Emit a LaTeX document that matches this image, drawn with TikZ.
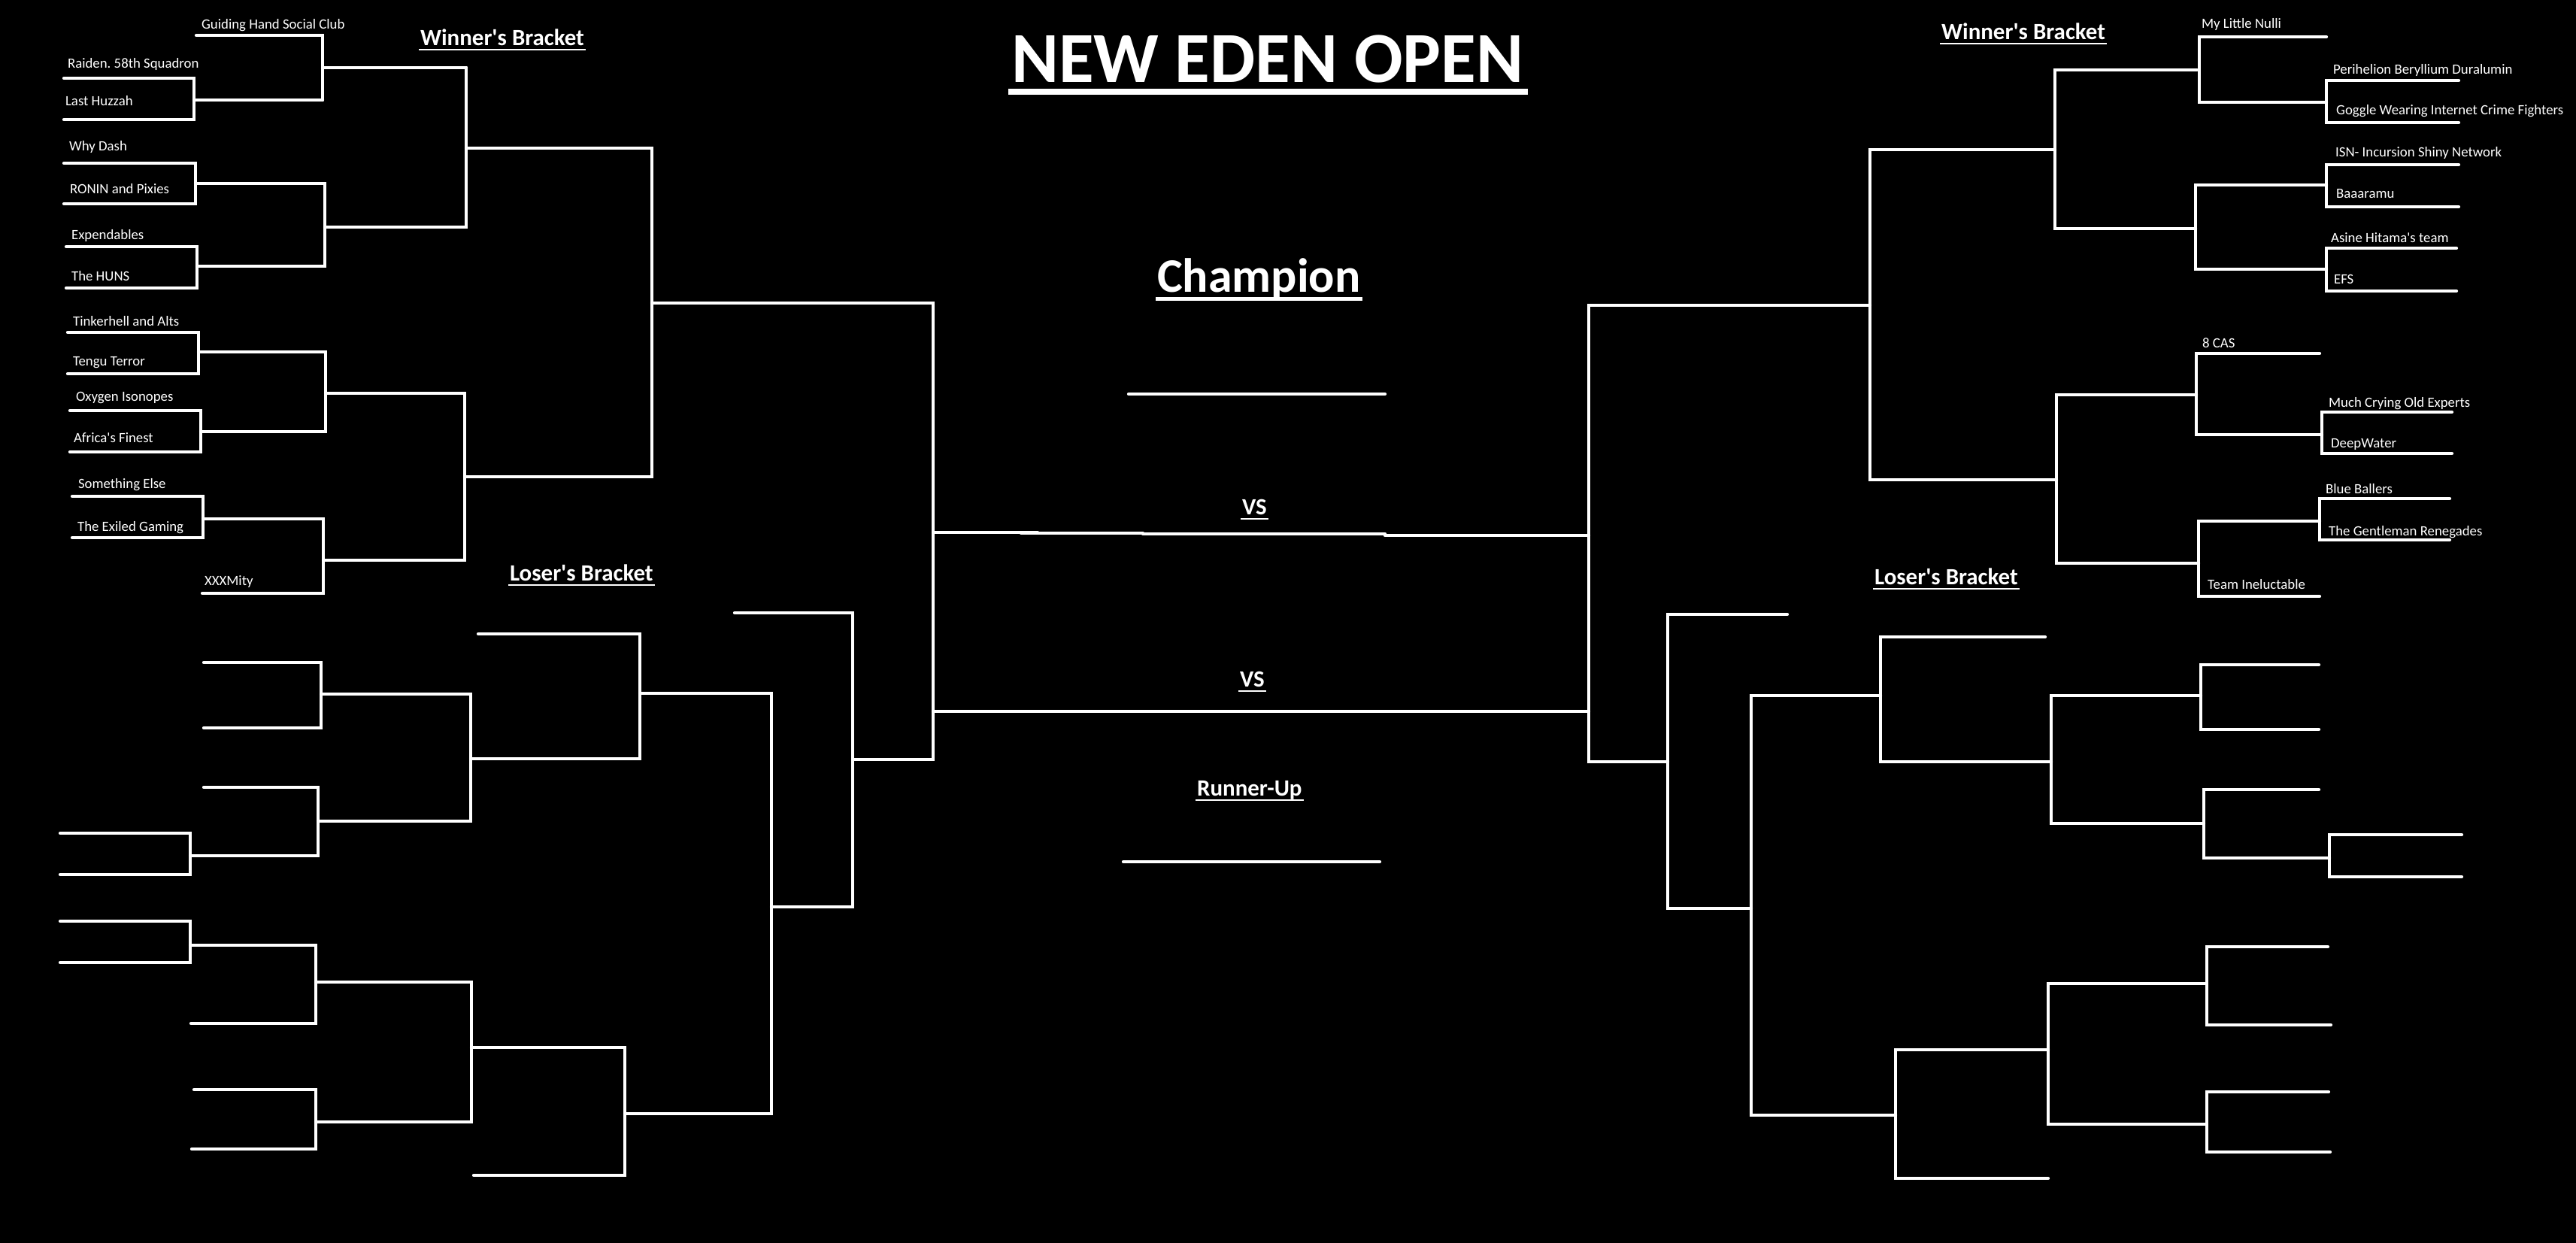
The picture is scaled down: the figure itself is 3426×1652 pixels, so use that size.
\documentclass[tikz,border=0pt]{standalone}
\usepackage{fontspec}
\setmainfont{Carlito}
\frenchspacing

\begin{document}
\begin{tikzpicture}[x=0.1mm, y=-0.1mm, line width=0.42mm, line cap=round, white,
        team/.style={anchor=base west, inner sep=0, font=\fontsize{5.35}{6}\selectfont},
        head/.style={anchor=base west, inner sep=0, font=\fontsize{8.8}{10}\selectfont\bfseries},
        uline/.style={line width=0.25mm, line cap=butt}]
        \useasboundingbox (0, 0) rectangle (3426, 1652);
        \fill[black] (-10, -10) rectangle (3436, 1662);

        % titles
        \node[anchor=base west, inner sep=0, font=\fontsize{27.2}{30}\selectfont\bfseries] (title) at (1343, 109) {NEW EDEN OPEN};
        \draw[line width=0.8mm, line cap=butt] ([xshift=-0.2mm, yshift=-1.3mm]title.base west) -- ([xshift=0.4mm, yshift=-1.3mm]title.base east);
        \node[anchor=base west, inner sep=0, font=\fontsize{18.2}{20}\selectfont\bfseries] (champ) at (1537, 388) {Champion};
        \draw[line width=0.5mm, line cap=butt] ([yshift=-0.9mm]champ.base west) -- ([yshift=-0.9mm]champ.base east);
        \node[head] (vsa) at (1650, 684) {VS};
        \node[head] (vsb) at (1647, 913) {VS};
        \node[head] (runner) at (1590, 1058) {Runner-Up};
        \node[head] (wbl) at (557, 60) {Winner\textquotesingle s Bracket};
        \node[head] (wbr) at (2580, 52) {Winner\textquotesingle s Bracket};
        \node[head] (lbl) at (676, 772) {Loser\textquotesingle s Bracket};
        \node[head] (lbr) at (2491, 777) {Loser\textquotesingle s Bracket};
        \foreach \n in {vsa, vsb, runner, wbl, wbr, lbl, lbr}
                \draw[uline] ([yshift=-0.6mm]\n.base west) -- ([yshift=-0.6mm]\n.base east);

        % left winner's bracket
        \draw (85, 104) -- (258, 104) -- (258, 159) -- (85, 159);
        \draw (258, 133) -- (429, 133);
        \draw (261, 47) -- (429, 47) -- (429, 133);
        \draw (429, 90) -- (620, 90);
        \draw (85, 217) -- (260, 217) -- (260, 271) -- (85, 271);
        \draw (260, 244) -- (432, 244) -- (432, 354) -- (262, 354);
        \draw (88, 328) -- (262, 328) -- (262, 383) -- (88, 383);
        \draw (432, 302) -- (620, 302) -- (620, 90);
        \draw (620, 197) -- (867, 197) -- (867, 634) -- (618, 634);
        \draw (90, 442) -- (264, 442) -- (264, 497) -- (90, 497);
        \draw (264, 468) -- (433, 468) -- (433, 574) -- (267, 574);
        \draw (93, 546) -- (267, 546) -- (267, 601) -- (93, 601);
        \draw (433, 523) -- (618, 523) -- (618, 745) -- (430, 745);
        \draw (96, 660) -- (270, 660) -- (270, 715) -- (96, 715);
        \draw (270, 690) -- (430, 690) -- (430, 789) -- (269, 789);
        \draw (867, 403) -- (1241, 403) -- (1241, 1010) -- (1134, 1010);

        \node[team] (ghsc) at (266, 38) {Guiding Hand Social Club};
        \node[team] (raiden) at (88, 90) {Raiden. 58th Squadron};
        \node[team] (huzzah) at (85, 140) {Last Huzzah};
        \node[team] (whydash) at (90, 200) {Why Dash};
        \node[team] (ronin) at (91, 257) {RONIN and Pixies};
        \node[team] (expend) at (93, 318) {Expendables};
        \node[team] (huns) at (93, 373) {The HUNS};
        \node[team] (tinker) at (95, 433) {Tinkerhell and Alts};
        \node[team] (tengu) at (95, 486) {Tengu Terror};
        \node[team] (oxygen) at (99, 533) {Oxygen Isonopes};
        \node[team] (africa) at (96, 588) {Africa\textquotesingle s Finest};
        \node[team] (selse) at (102, 649) {Something Else};
        \node[team] (exiled) at (101, 706) {The Exiled Gaming};
        \node[team] (xxxmity) at (270, 778) {XXXMity};

        % left loser's bracket
        \draw (271, 881) -- (427, 881) -- (427, 968) -- (271, 968);
        \draw (427, 923) -- (626, 923) -- (626, 1092) -- (423, 1092);
        \draw (271, 1047) -- (423, 1047) -- (423, 1138) -- (253, 1138);
        \draw (80, 1108) -- (253, 1108) -- (253, 1163) -- (80, 1163);
        \draw (626, 1009) -- (851, 1009) -- (851, 843) -- (636, 843);
        \draw (851, 922) -- (1026, 922) -- (1026, 1481) -- (831, 1481);
        \draw (1026, 1206) -- (1134, 1206) -- (1134, 815) -- (977, 815);
        \draw (80, 1225) -- (253, 1225) -- (253, 1280) -- (80, 1280);
        \draw (253, 1257) -- (420, 1257) -- (420, 1361) -- (254, 1361);
        \draw (420, 1306) -- (627, 1306) -- (627, 1492) -- (420, 1492);
        \draw (258, 1449) -- (420, 1449) -- (420, 1528) -- (255, 1528);
        \draw (627, 1393) -- (831, 1393) -- (831, 1563) -- (630, 1563);

        % finals
        \draw (1241, 708) -- (1380, 708);
        \draw (1358, 709) -- (1520, 709);
        \draw (1520, 710) -- (1842, 710);
        \draw (1842, 712) -- (2113, 712);
        \draw (1241, 946) -- (2113, 946);
        \draw (1501, 524) -- (1842, 524);
        \draw (1494, 1146) -- (1835, 1146);

        % right winner's bracket
        \draw (2487, 406) -- (2113, 406) -- (2113, 1013) -- (2218, 1013);
        \draw (2733, 199) -- (2487, 199) -- (2487, 638) -- (2735, 638);
        \draw (2922, 93) -- (2733, 93) -- (2733, 304) -- (2920, 304);
        \draw (3094, 49) -- (2925, 49) -- (2925, 136) -- (3094, 136);
        \draw (3270, 107) -- (3094, 107) -- (3094, 163) -- (3270, 163);
        \draw (3094, 246) -- (2920, 246) -- (2920, 358) -- (3094, 358);
        \draw (3270, 219) -- (3094, 219) -- (3094, 275) -- (3270, 275);
        \draw (3267, 330) -- (3094, 330) -- (3094, 387) -- (3267, 387);
        \draw (2921, 525) -- (2735, 525) -- (2735, 749) -- (2924, 749);
        \draw (3085, 470) -- (2921, 470) -- (2921, 578) -- (3088, 578);
        \draw (3261, 548) -- (3088, 548) -- (3088, 603) -- (3261, 603);
        \draw (3085, 693) -- (2924, 693) -- (2924, 793) -- (3085, 793);
        \draw (3258, 663) -- (3085, 663) -- (3085, 718) -- (3258, 718);

        \node[team] (nulli) at (2926, 37) {My Little Nulli};
        \node[team] (perihelion) at (3101, 98) {Perihelion Beryllium Duralumin};
        \node[team] (goggle) at (3105, 152) {Goggle Wearing Internet Crime Fighters};
        \node[team] (isn) at (3104, 208) {ISN- Incursion Shiny Network};
        \node[team] (baaaramu) at (3105, 263) {Baaaramu};
        \node[team] (asine) at (3098, 322) {Asine Hitama\textquotesingle s team};
        \node[team] (efs) at (3102, 377) {EFS};
        \node[team] (cas) at (2927, 462) {8 CAS};
        \node[team] (mcoe) at (3095, 541) {Much Crying Old Experts};
        \node[team] (deepwater) at (3098, 595) {DeepWater};
        \node[team] (blueballers) at (3091, 656) {Blue Ballers};
        \node[team] (gentleman) at (3095, 712) {The Gentleman Renegades};
        \node[team] (inelu) at (2934, 783) {Team Ineluctable};

        % right loser's bracket
        \draw (2377, 817) -- (2218, 817) -- (2218, 1208) -- (2329, 1208);
        \draw (2501, 925) -- (2329, 925) -- (2329, 1483) -- (2521, 1483);
        \draw (2720, 847) -- (2501, 847) -- (2501, 1013) -- (2728, 1013);
        \draw (2927, 925) -- (2728, 925) -- (2728, 1095) -- (2931, 1095);
        \draw (3084, 884) -- (2927, 884) -- (2927, 970) -- (3084, 970);
        \draw (3084, 1050) -- (2931, 1050) -- (2931, 1141) -- (3098, 1141);
        \draw (3274, 1110) -- (3098, 1110) -- (3098, 1166) -- (3274, 1166);
        \draw (2724, 1396) -- (2521, 1396) -- (2521, 1567) -- (2724, 1567);
        \draw (2933, 1308) -- (2724, 1308) -- (2724, 1495) -- (2933, 1495);
        \draw (3096, 1259) -- (2935, 1259) -- (2935, 1363) -- (3100, 1363);
        \draw (3097, 1452) -- (2935, 1452) -- (2935, 1532) -- (3099, 1532);
\end{tikzpicture}
\end{document}
